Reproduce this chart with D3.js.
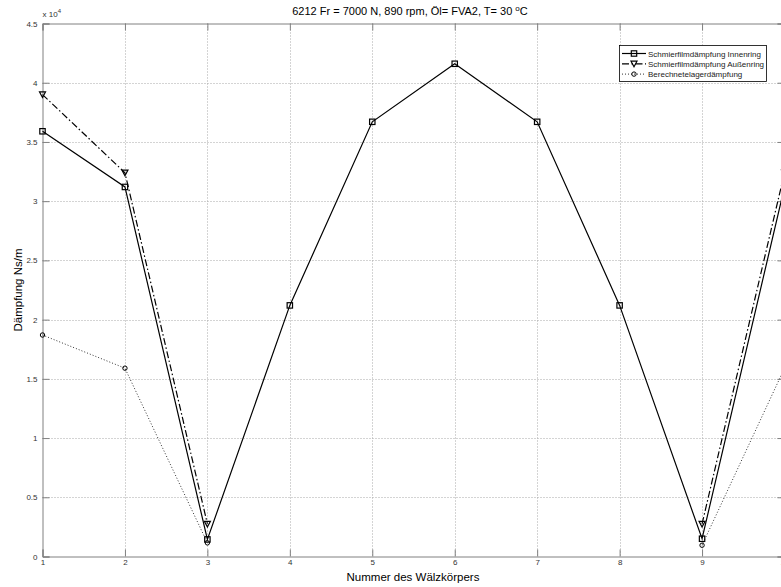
<!DOCTYPE html>
<html>
<head>
<meta charset="utf-8">
<script src="https://cdn.jsdelivr.net/npm/d3@7/dist/d3.min.js"></script>
<style>
  body { margin: 0; background: #fff; }
  svg { display: block; font-family: "Liberation Sans", Arial, sans-serif; }
</style>
</head>
<body>
<div id="chart"></div>
<script>
// data (Nummer des Wälzkörpers -> Dämpfung in Ns/m)
var rollers = [1, 2, 3, 4, 5, 6, 7, 8, 9, 10];
var innenring = [35900, 31200, 1440, 21200, 36700, 41600, 36700, 21200, 1500, 31200];
var aussenring = [39000, 32400, 2750, null, null, null, null, null, 2750, 32400];
var berechnet = [18700, 15900, 1150, null, null, null, null, null, 950, 15900];
var yTicks = [0, 5000, 10000, 15000, 20000, 25000, 30000, 35000, 40000, 45000];
var legendLabels = ["Schmierfilmdämpfung Innenring", "Schmierfilmdämpfung Außenring", "Berechnetelagerdämpfung"];

var width = 781, height = 587;
var margin = {top: 23.5, left: 42.5, right: -3.5, bottom: 30.5};

var svg = d3.select("#chart").append("svg")
    .attr("width", width)
    .attr("height", height);

var x = d3.scaleLinear().domain([1, 10]).range([margin.left, width - margin.right]);
var y = d3.scaleLinear().domain([0, 45000]).range([height - margin.bottom, margin.top]);

// grid
var grid = svg.append("g").attr("stroke", "#a8a8a8").attr("stroke-dasharray", "1,2").attr("stroke-width", 1);
grid.selectAll("line.gx").data(rollers.slice(1, -1)).enter().append("line")
    .attr("x1", function(d) { return Math.round(x(d)) + 0.5; })
    .attr("x2", function(d) { return Math.round(x(d)) + 0.5; })
    .attr("y1", y(45000)).attr("y2", y(0));
grid.selectAll("line.gy").data(yTicks.slice(1, -1)).enter().append("line")
    .attr("y1", function(d) { return Math.round(y(d)) + 0.5; })
    .attr("y2", function(d) { return Math.round(y(d)) + 0.5; })
    .attr("x1", x(1)).attr("x2", x(10));

// axes (inward ticks, on all four sides like matlab)
var fmt = function(d) { return d3.format("~g")(d / 1e4); };
var axes = [
    svg.append("g").attr("transform", "translate(0," + y(0) + ")")
        .call(d3.axisBottom(x).tickValues(rollers).tickSize(-7).tickPadding(3)),
    svg.append("g").attr("transform", "translate(0," + y(45000) + ")")
        .call(d3.axisTop(x).tickValues(rollers).tickSize(-7).tickFormat("")),
    svg.append("g").attr("transform", "translate(" + x(1) + ",0)")
        .call(d3.axisLeft(y).tickValues(yTicks).tickSize(-7).tickPadding(5).tickFormat(fmt)),
    svg.append("g").attr("transform", "translate(" + x(10) + ",0)")
        .call(d3.axisRight(y).tickValues(yTicks).tickSize(-7).tickFormat(""))
];
axes.forEach(function(a) {
    a.select(".domain").attr("stroke", "#808080");
    a.selectAll(".tick line").attr("stroke", "#808080");
    a.selectAll(".tick text").attr("font-size", 8).attr("fill", "#333")
        .attr("font-family", "'Liberation Sans', Arial, sans-serif");
});

// x 10^4 multiplier
var mult = svg.append("text").attr("x", x(1)).attr("y", 17)
    .attr("font-size", 8).attr("fill", "#333");
mult.append("tspan").text("x 10");
mult.append("tspan").attr("dy", -4).attr("font-size", 6).text("4");

// title and labels
var title = svg.append("text").attr("x", 410).attr("y", 15)
    .attr("text-anchor", "middle").attr("font-size", 11).attr("fill", "#000");
title.append("tspan").text("6212 Fr = 7000 N, 890 rpm, Öl= FVA2, T= 30 ");
title.append("tspan").attr("dy", -4).attr("font-size", 8).text("o");
title.append("tspan").attr("dy", 4).text("C");

svg.append("text").attr("x", 413).attr("y", 581)
    .attr("text-anchor", "middle").attr("font-size", 11.5)
    .text("Nummer des Wälzkörpers");

svg.append("text")
    .attr("transform", "translate(22," + (y(0) + y(45000)) / 2 + ") rotate(-90)")
    .attr("text-anchor", "middle").attr("font-size", 11.5)
    .text("Dämpfung Ns/m");

// series
var series = [
    {values: innenring, dash: null, stroke: "#000", width: 1.2, marker: "square"},
    {values: aussenring, dash: "7,2.5,1.5,2.5", stroke: "#000", width: 1.2, marker: "triangle"},
    {values: berechnet, dash: "1,2", stroke: "#333", width: 1, marker: "circle"}
];

var line = d3.line()
    .defined(function(d) { return d.v !== null; })
    .x(function(d) { return x(d.n); })
    .y(function(d) { return y(d.v); });

function drawMarker(g, type, cx, cy) {
    if (type === "square") {
        g.append("rect").attr("x", cx - 2.7).attr("y", cy - 2.7).attr("width", 5.4).attr("height", 5.4)
            .attr("fill", "none").attr("stroke", "#000").attr("stroke-width", 1.2);
    } else if (type === "triangle") {
        g.append("path").attr("d", "M" + (cx - 3) + "," + (cy - 2.6) + "L" + (cx + 3) + "," + (cy - 2.6) + "L" + cx + "," + (cy + 3) + "Z")
            .attr("fill", "none").attr("stroke", "#000").attr("stroke-width", 1.2);
    } else {
        g.append("circle").attr("cx", cx).attr("cy", cy).attr("r", 2.2)
            .attr("fill", "none").attr("stroke", "#000").attr("stroke-width", 1);
    }
}

series.slice().reverse().forEach(function(s) {
    var pts = rollers.map(function(n, i) { return {n: n, v: s.values[i]}; });
    svg.append("path").datum(pts)
        .attr("d", line)
        .attr("fill", "none")
        .attr("stroke", s.stroke)
        .attr("stroke-width", s.width)
        .attr("stroke-dasharray", s.dash);
    var mg = svg.append("g");
    pts.filter(function(d) { return d.v !== null; }).forEach(function(d) {
        drawMarker(mg, s.marker, x(d.n), y(d.v));
    });
});

// legend
var legend = svg.append("g").attr("transform", "translate(619,45)");
legend.append("rect").attr("x", 0.5).attr("y", 0.5).attr("width", 147).attr("height", 36)
    .attr("fill", "#fff").attr("stroke", "#000").attr("stroke-width", 0.8);
legendLabels.forEach(function(lbl, i) {
    var s = series[i], ly = 8.5 + i * 10.3;
    legend.append("line").attr("x1", 3).attr("x2", 27).attr("y1", ly).attr("y2", ly)
        .attr("stroke", s.stroke).attr("stroke-width", s.width).attr("stroke-dasharray", s.dash);
    drawMarker(legend, s.marker, 15, ly);
    legend.append("text").attr("x", 29).attr("y", ly + 3).attr("font-size", 8).attr("fill", "#222").text(lbl);
});
</script>
</body>
</html>
